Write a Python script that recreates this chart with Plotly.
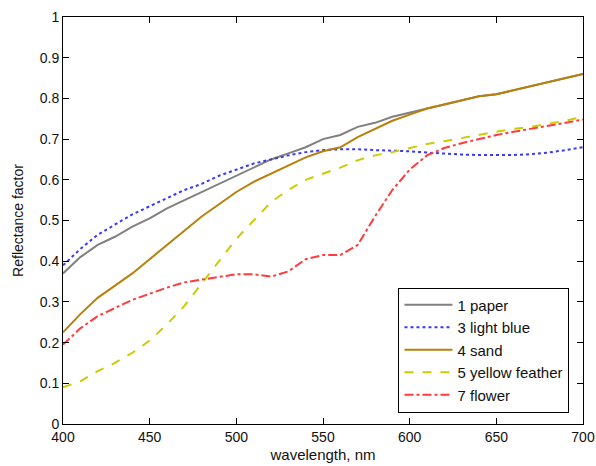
import plotly.graph_objects as go

wavelength = list(range(400, 701, 10))

paper = [0.370, 0.410, 0.440, 0.460, 0.485, 0.505, 0.530, 0.550, 0.570, 0.590,
         0.610, 0.630, 0.650, 0.665, 0.680, 0.700, 0.710, 0.730, 0.740, 0.755,
         0.765, 0.775, 0.785, 0.795, 0.805, 0.810, 0.820, 0.830, 0.840, 0.850, 0.860]
light_blue = [0.390, 0.430, 0.465, 0.490, 0.515, 0.535, 0.555, 0.575, 0.590, 0.610,
              0.625, 0.640, 0.650, 0.660, 0.668, 0.673, 0.675, 0.675, 0.673, 0.672,
              0.670, 0.667, 0.664, 0.662, 0.661, 0.661, 0.661, 0.663, 0.667, 0.673, 0.680]
sand = [0.225, 0.270, 0.310, 0.340, 0.370, 0.405, 0.440, 0.475, 0.510, 0.540,
        0.570, 0.595, 0.615, 0.635, 0.655, 0.670, 0.680, 0.705, 0.725, 0.745,
        0.760, 0.775, 0.785, 0.795, 0.805, 0.810, 0.820, 0.830, 0.840, 0.850, 0.860]
yellow_feather = [0.090, 0.105, 0.130, 0.150, 0.175, 0.205, 0.245, 0.290, 0.345, 0.400,
                  0.455, 0.500, 0.545, 0.575, 0.600, 0.615, 0.630, 0.648, 0.660, 0.668,
                  0.678, 0.688, 0.695, 0.703, 0.710, 0.718, 0.725, 0.730, 0.738, 0.745, 0.755]
flower = [0.195, 0.235, 0.265, 0.285, 0.305, 0.320, 0.335, 0.348, 0.355, 0.362,
          0.368, 0.368, 0.362, 0.375, 0.405, 0.415, 0.415, 0.440, 0.510, 0.575,
          0.625, 0.660, 0.678, 0.690, 0.700, 0.710, 0.718, 0.725, 0.733, 0.740, 0.748]

series = [
    ("1 paper", paper, "#808080", "solid"),
    ("3 light blue", light_blue, "#3838ff", "dot"),
    ("4 sand", sand, "#b8800a", "solid"),
    ("5 yellow feather", yellow_feather, "#cccc00", "dash"),
    ("7 flower", flower, "#ff3b3b", "dashdot"),
]

fig = go.Figure()
for name, vals, color, dash in series:
    fig.add_trace(go.Scatter(x=wavelength, y=vals, mode="lines", name=name,
                             line=dict(color=color, width=2, dash=dash)))

axis_common = dict(showgrid=False, zeroline=False, showline=True, linecolor="black",
                   linewidth=1, mirror="ticks", ticks="inside", ticklen=6,
                   tickcolor="black", tickfont=dict(size=14, color="#111"),
                   automargin=False)

fig.update_layout(
    width=596, height=466,
    margin=dict(l=63, r=13, t=17, b=42),
    paper_bgcolor="white", plot_bgcolor="white",
    font=dict(family="Liberation Sans, Arial, sans-serif", color="#111", size=14),
    xaxis=dict(range=[400, 700], tickvals=[400, 450, 500, 550, 600, 650, 700],
               title=dict(text="wavelength, nm", font=dict(size=15), standoff=5),
               **axis_common),
    yaxis=dict(range=[0, 1], tickvals=[0, 0.1, 0.2, 0.3, 0.4, 0.5, 0.6, 0.7, 0.8, 0.9, 1],
               ticktext=["0", "0.1", "0.2", "0.3", "0.4", "0.5", "0.6", "0.7", "0.8", "0.9", "1"],
               title=dict(text="Reflectance factor", font=dict(size=14), standoff=12),
               **axis_common),
    legend=dict(x=0.974, y=0.028, xanchor="right", yanchor="bottom",
                bgcolor="white", bordercolor="black", borderwidth=1,
                font=dict(size=15), tracegroupgap=0, itemwidth=48),
    showlegend=True,
)

fig.write_html("out.html", config={"displayModeBar": False},
               post_script="document.body.style.margin='0';document.body.style.overflow='hidden';")
